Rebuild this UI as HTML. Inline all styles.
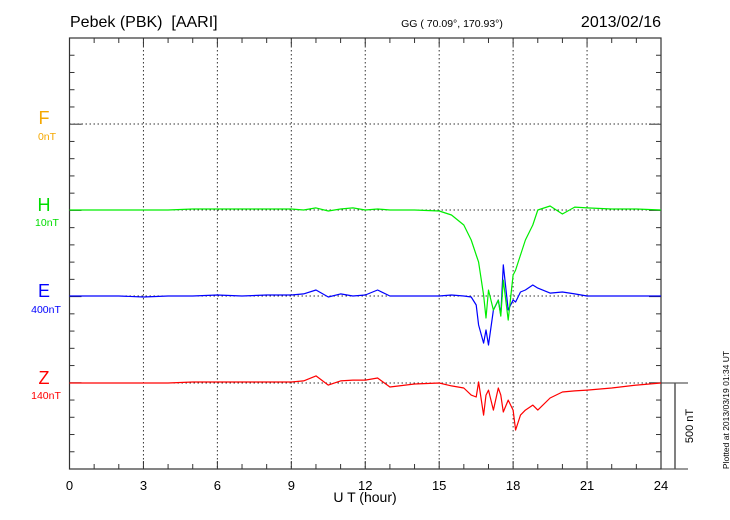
<!DOCTYPE html>
<html><head><meta charset="utf-8"><style>
body{margin:0;background:#fff}
svg{display:block;font-family:"Liberation Sans",Arial,sans-serif}
</style></head><body>
<svg id="c" width="730" height="520" viewBox="0 0 730 520">
<text x="70" y="27" font-size="16">Pebek (PBK)&#160;&#160;[AARI]</text>
<text x="452" y="27" font-size="10.5" text-anchor="middle">GG ( 70.09°, 170.93°)</text>
<text x="661" y="27" font-size="16" text-anchor="end">2013/02/16</text>
<g id="grid"></g>
<g id="axes"></g>
<g id="series"></g>
<text x="44" y="124" font-size="18" fill="#f5a800" text-anchor="middle">F</text>
<text x="47" y="140" font-size="10.5" fill="#f5a800" text-anchor="middle">0nT</text>
<text x="44" y="211" font-size="18" fill="#00dd00" text-anchor="middle">H</text>
<text x="47" y="226" font-size="10.5" fill="#00dd00" text-anchor="middle">10nT</text>
<text x="44" y="297" font-size="18" fill="#0000ff" text-anchor="middle">E</text>
<text x="46" y="313" font-size="10.5" fill="#0000ff" text-anchor="middle">400nT</text>
<text x="44" y="384" font-size="18" fill="#ff0000" text-anchor="middle">Z</text>
<text x="46" y="399" font-size="10.5" fill="#ff0000" text-anchor="middle">140nT</text>
<text x="365" y="502" font-size="14" text-anchor="middle">U T (hour)</text>
<line x1="675" y1="383" x2="675" y2="469" stroke="#555" stroke-width="1.5"/>
<text transform="translate(693,426) rotate(-90)" font-size="11" text-anchor="middle">500 nT</text>
<text transform="translate(729,410) rotate(-90)" font-size="8.5" text-anchor="middle">Plotted at 2013/03/19 01:34 UT</text>
</svg>
<script>
const times=[0,1,2,3,4,5,6,7,8,9,9.5,10,10.5,11,11.5,12,12.5,13,14,15,15.5,16,16.3,16.5,16.6,16.8,16.9,17,17.2,17.4,17.5,17.6,17.8,18,18.1,18.3,18.5,18.8,19,19.5,20,20.5,21,22,23,24];
const hVals=[0,0,0,0,0,6,6,6,6,6,0,12,-6,6,12,0,6,0,0,-6,-29,-87,-174,-261,-302,-493,-626,-464,-580,-522,-615,-406,-638,-377,-348,-261,-174,-87,0,23,-23,17,12,6,6,0];
const eVals=[0,0,0,-6,0,0,6,0,6,6,12,35,-6,12,0,6,35,0,0,0,6,0,-6,-52,-168,-273,-197,-284,-81,-23,-110,180,-81,-23,-35,23,35,64,46,17,23,12,0,0,0,0];
const zVals=[0,0,0,0,0,6,6,6,6,6,12,41,-12,12,17,17,29,-23,-6,0,-17,-29,-70,-81,6,-186,-70,-41,-157,-29,-70,-168,-99,-157,-273,-186,-157,-128,-157,-87,-52,-46,-41,-29,-12,0];
const xTicks=[0,3,6,9,12,15,18,21,24];
const X0=69.5,X1=661,Y0=38,Y1=469;
const x=t=>X0+(X1-X0)*t/24;
const pxPerNT=86.3/500;
const yv=(base,v)=>base-v*pxPerNT;
const NS="http://www.w3.org/2000/svg";
function mk(tag,attrs,parent){const e=document.createElementNS(NS,tag);for(const k in attrs)e.setAttribute(k,attrs[k]);parent.appendChild(e);return e;}
const grid=document.getElementById('grid'),axes=document.getElementById('axes'),ser=document.getElementById('series');
const bases=[124,210,296,383];
bases.forEach(b=>{const l=mk('line',{x1:X0,x2:X1,y1:b,y2:b,stroke:'#333','stroke-dasharray':'1.5,2.5','stroke-width':1},grid);

});
xTicks.forEach(t=>{if(t>0&&t<24){const l=mk('line',{x1:x(t),x2:x(t),y1:Y0,y2:Y1,stroke:'#333','stroke-dasharray':'1.5,2.5','stroke-width':1},grid);

}
const tx=mk('text',{x:x(t),y:490,'font-size':13,'text-anchor':'middle'},axes);tx.textContent=t;

});
const fr=mk('rect',{x:X0,y:Y0,width:X1-X0,height:Y1-Y0,fill:'none',stroke:'#333','stroke-width':1.2},axes);


for(let h=0;h<=24;h++){const L=(h%3===0)?8:5;
mk('line',{x1:x(h),x2:x(h),y1:Y0,y2:Y0+L,stroke:'#333'},axes);
mk('line',{x1:x(h),x2:x(h),y1:Y1,y2:Y1-L,stroke:'#333'},axes);}
for(let i=0;i<=25;i++){const yy=Y0+i*(Y1-Y0)/25;const L=(i%5===0&&i>0)?12:5;
mk('line',{x1:X0,x2:X0+L,y1:yy,y2:yy,stroke:'#333'},axes);
mk('line',{x1:X1,x2:X1-L,y1:yy,y2:yy,stroke:'#333'},axes);}
mk('line',{x1:X1,x2:688,y1:383,y2:383,stroke:'#333'},axes);
mk('line',{x1:X1,x2:688,y1:469,y2:469,stroke:'#333'},axes);
function draw(vals,base,col,name){const d=times.map((t,i)=>(i?'L':'M')+x(t).toFixed(1)+','+yv(base,vals[i]).toFixed(1)).join('');
const p=mk('path',{d:d,fill:'none',stroke:col,'stroke-width':1.2,'stroke-linejoin':'round'},ser);

}
draw(zVals,383,'#ff0000','z-series');
draw(eVals,296,'#0000ff','e-series');
draw(hVals,210,'#00ee00','h-series');
</script>
</body></html>
